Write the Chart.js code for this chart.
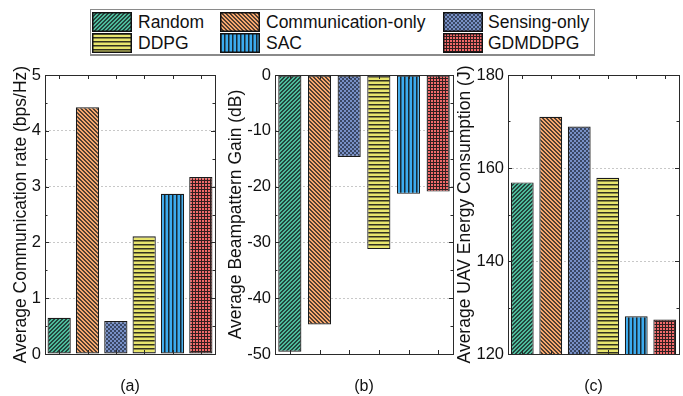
<!DOCTYPE html>
<html>
<head>
<meta charset="utf-8">
<script src="https://cdn.jsdelivr.net/npm/chart.js@4.4.1/dist/chart.umd.min.js"></script>
<style>
  body { margin: 0; background: #fff; width: 683px; height: 396px; overflow: hidden; position: relative;
         font-family: 'Liberation Sans', Arial, sans-serif; color: #111; }
  .panel { position: absolute; top: 60px; }
  #legendBox { position: absolute; left: 90px; top: 9px; width: 505px; height: 47px;
               box-sizing: border-box; border: 1.5px solid #8a8a8a; border-bottom-width: 2px; }
  .sw { position: absolute; width: 40px; height: 20px; }
  .lt { position: absolute; font-size: 17.5px; line-height: 20px; white-space: nowrap; }
</style>
</head>
<body>
<div id="legendBox"></div>
<div id="legend"></div>
<canvas id="chartA" class="panel" width="220" height="336" style="left:0px"></canvas>
<canvas id="chartB" class="panel" width="240" height="336" style="left:220px"></canvas>
<canvas id="chartC" class="panel" width="243" height="336" style="left:440px"></canvas>

<script>
// ===========================
// DATA
// ===========================

const methods = ['Random', 'Communication-only', 'Sensing-only', 'DDPG', 'SAC', 'GDMDDPG'];
const commRate = [0.65, 4.42, 0.59, 2.11, 2.87, 3.17];          // (a) bps/Hz
const beamGain = [-49.6, -44.7, -14.7, -31.2, -21.3, -20.9];    // (b) dB
const energyUse = [156.9, 171.0, 168.9, 157.9, 128.1, 127.4];   // (c) J

const fillColors = ['#4dbb9b', '#f7a86f', '#7890c6', '#e8e56e', '#3cabee', '#f26a6a'];
const hatchKinds = ['diagUp', 'diagDown', 'checker', 'horiz', 'vert', 'grid'];

// ===========================
// HATCH PATTERNS
// ===========================

function makePattern(kind, color) {
    const size = kind === 'grid' ? 3 : 4;
    const c = document.createElement('canvas');
    c.width = size; c.height = size;
    const g = c.getContext('2d');
    g.fillStyle = color;
    g.fillRect(0, 0, size, size);

    if (kind === 'diagUp' || kind === 'diagDown' || kind === 'checker') {
        g.fillStyle = kind === 'checker' ? 'rgba(20, 26, 40, 0.62)' : 'rgba(20, 22, 24, 0.72)';
        for (let x = 0; x < size; x++) {
            for (let y = 0; y < size; y++) {
                let dark = false;
                if (kind === 'diagUp') dark = (x + y) % 4 < 2;
                if (kind === 'diagDown') dark = (x - y + 4) % 4 < 2;
                if (kind === 'checker') dark = ((x >> 1) + (y >> 1)) % 2 === 0;
                if (dark) g.fillRect(x, y, 1, 1);
            }
        }
    }
    g.fillStyle = 'rgba(18, 18, 18, 0.85)';
    if (kind === 'horiz') g.fillRect(0, 0, 4, 1.5);
    if (kind === 'vert') g.fillRect(0, 0, 1.5, 4);
    if (kind === 'grid') { g.fillRect(0, 0, 3, 1); g.fillRect(0, 1, 1, 2); }
    return g.createPattern(c, 'repeat');
}

const patterns = hatchKinds.map((k, i) => makePattern(k, fillColors[i]));

// ===========================
// LEGEND (html, two rows of three)
// ===========================

const legendCols = [[92, 138], [220, 266], [443, 488]];
const legendRows = [12, 33];
const legendEl = document.getElementById('legend');

methods.forEach((name, i) => {
    const col = legendCols[i % 3];
    const top = legendRows[Math.floor(i / 3)];
    const sw = document.createElement('canvas');
    sw.className = 'sw';
    sw.width = 40; sw.height = 20;
    sw.style.left = col[0] + 'px';
    sw.style.top = top + 'px';
    const g = sw.getContext('2d');
    g.fillStyle = patterns[i];
    g.fillRect(0, 0, 40, 20);
    g.strokeStyle = '#111';
    g.lineWidth = 1.5;
    g.strokeRect(0.75, 0.75, 38.5, 18.5);
    legendEl.appendChild(sw);

    const lt = document.createElement('div');
    lt.className = 'lt';
    lt.textContent = name;
    lt.style.left = col[1] + 'px';
    lt.style.top = top + 'px';
    legendEl.appendChild(lt);
});

// ===========================
// FRAME + INWARD TICKS
// ===========================

const framePlugin = {
    id: 'frame',
    afterDraw(chart, args, opts) {
        const { ctx, chartArea: a, scales: { x, y } } = chart;
        ctx.save();
        ctx.strokeStyle = '#2a2a2a';
        ctx.lineWidth = 1;
        ctx.beginPath();
        x.ticks.forEach((t, i) => {
            const px = Math.round(x.getPixelForTick(i)) + 0.5;
            ctx.moveTo(px, a.bottom); ctx.lineTo(px, a.bottom - 4);
            ctx.moveTo(px, a.top); ctx.lineTo(px, a.top + 4);
        });
        for (let v = y.min; v <= y.max + 1e-9; v += opts.minor) {
            const isMajor = Math.abs(v / opts.major - Math.round(v / opts.major)) < 1e-6;
            const len = isMajor ? 4 : 2.5;
            const py = Math.round(y.getPixelForValue(v)) + 0.5;
            ctx.moveTo(a.left, py); ctx.lineTo(a.left + len, py);
            ctx.moveTo(a.right, py); ctx.lineTo(a.right - len, py);
        }
        ctx.stroke();
        ctx.strokeRect(Math.round(a.left) + 0.5, Math.round(a.top) + 0.5,
                       Math.round(a.right - a.left), Math.round(a.bottom - a.top));
        ctx.restore();
    }
};

// ===========================
// PANEL BUILDER
// ===========================

function buildPanel(id, values, cfg) {
    return new Chart(document.getElementById(id), {
        type: 'bar',
        data: {
            labels: methods,
            datasets: [{
                data: values,
                backgroundColor: patterns,
                borderColor: '#1a1a1a',
                borderWidth: 1.2,
                borderSkipped: false,
                barPercentage: cfg.barPct,
                categoryPercentage: 1
            }]
        },
        options: {
            responsive: false,
            animation: false,
            events: [],
            layout: { padding: { top: 15, right: cfg.padRight, left: 0, bottom: 0 } },
            plugins: {
                legend: { display: false },
                tooltip: { enabled: false },
                frame: { major: cfg.step, minor: cfg.step / 2 }
            },
            scales: {
                x: {
                    offset: true,
                    grid: { display: false },
                    border: { display: false },
                    ticks: { display: false },
                    title: {
                        display: true,
                        text: cfg.panelLabel,
                        color: '#111',
                        font: { family: 'Liberation Sans', size: 16 },
                        padding: { top: 0, bottom: 0 }
                    },
                    afterFit: (s) => { s.height = 42; }
                },
                y: {
                    min: cfg.min,
                    max: cfg.max,
                    grid: { color: '#c8c8c8', lineWidth: 1, drawTicks: false },
                    border: { display: false, dash: [2, 2] },
                    ticks: {
                        stepSize: cfg.step,
                        padding: 4,
                        color: '#111',
                        font: { family: 'Liberation Sans', size: 16.5 }
                    },
                    title: {
                        display: true,
                        text: cfg.yTitle,
                        color: '#111',
                        font: { family: 'Liberation Sans', size: 17.5 },
                        padding: { top: cfg.titlePad, bottom: 0 }
                    },
                    afterFit: (s) => { s.width = cfg.yWidth; }
                }
            }
        },
        plugins: [framePlugin]
    });
}

buildPanel('chartA', commRate, {
    min: 0, max: 5, step: 1, yWidth: 45, padRight: 5, titlePad: 10.5, barPct: 0.82,
    yTitle: 'Average Communication rate (bps/Hz)', panelLabel: '(a)'
});

buildPanel('chartB', beamGain, {
    min: -50, max: 0, step: 10, yWidth: 55, padRight: 7, titlePad: 5.5, barPct: 0.78,
    yTitle: 'Average Beampattern Gain (dB)', panelLabel: '(b)'
});

buildPanel('chartC', energyUse, {
    min: 120, max: 180, step: 20, yWidth: 68, padRight: 4, titlePad: 14.5, barPct: 0.8,
    yTitle: 'Average UAV Energy Consumption (J)', panelLabel: '(c)'
});
</script>
</body>
</html>
